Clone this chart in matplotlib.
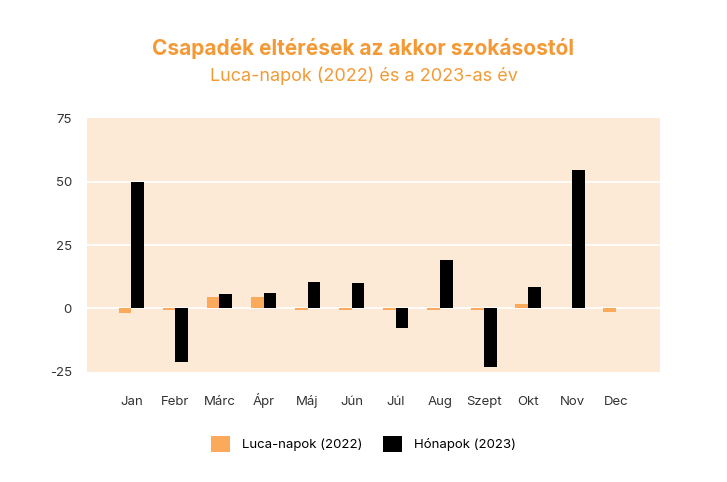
import matplotlib
matplotlib.use("Agg")
import matplotlib.pyplot as plt
import numpy as np

plt.rcParams['font.family'] = ['Inter', 'DejaVu Sans']

months = ["Jan", "Febr", "Márc", "Ápr", "Máj", "Jún", "Júl", "Aug", "Szept", "Okt", "Nov", "Dec"]
luca = [-2.0, -0.8, 4.5, 4.5, -0.8, -0.8, -0.8, -0.8, -0.8, 1.7, 0.0, -1.5]
honap = [49.8, -21.0, 5.5, 6.2, 10.4, 9.9, -7.9, 19.2, -23.2, 8.3, 54.5, 0.0]
series_names = ["Luca-napok (2022)", "Hónapok (2023)"]
yticks = [-25, 0, 25, 50, 75]

orange = "#FBAA5C"
title_col = "#F39A36"
bg = "#FCEAD6"

fig = plt.figure(figsize=(7.27, 4.82), dpi=100)
ax = fig.add_axes([0.120, 0.2288, 0.788, 0.5258])
ax.set_facecolor(bg)

x = np.arange(len(months))
w = 0.29
ax.bar(x - w / 2, luca, width=w, color=orange, label=series_names[0], zorder=3)
ax.bar(x + w / 2, honap, width=w, color="black", label=series_names[1], zorder=3)

ax.set_xlim(-1, 12)
ax.set_ylim(-25, 75)
ax.set_yticks(yticks)
ax.set_yticklabels([str(v) for v in yticks], fontsize=9.5, color="#333333")
ax.set_xticks(x)
ax.set_xticklabels(months, fontsize=9.5, color="#333333")
for lbl in ax.get_xticklabels():
    lbl.set_va("baseline")
ax.tick_params(axis='both', length=0)
ax.tick_params(axis='y', pad=11)
ax.tick_params(axis='x', pad=24)
for s in ax.spines.values():
    s.set_visible(False)
for v in [0, 25, 50]:
    ax.axhline(v, color="white", lw=1.2, zorder=2)

fig.text(0.5, 0.900, "Csapadék eltérések az akkor szokásostól", ha="center", va="center",
         fontsize=15, fontweight="bold", color=title_col)
fig.text(0.5, 0.842, "Luca-napok (2022) és a 2023-as év", ha="center", va="center",
         fontsize=13, color=title_col)

fig.legend(loc="center", bbox_to_anchor=(0.5, 0.079), ncol=2, frameon=False,
           fontsize=9.5, handlelength=1.4, handleheight=1.4, columnspacing=1.6,
           handletextpad=0.9)

fig.savefig("out.png", dpi=100, facecolor="white")
